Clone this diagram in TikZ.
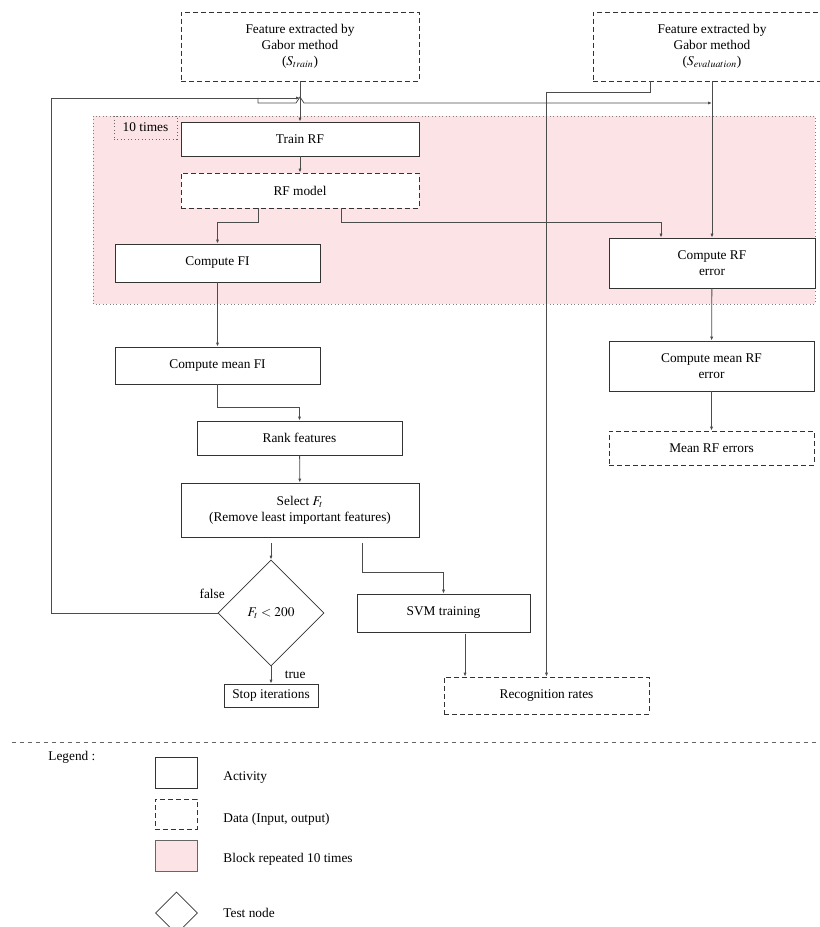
\documentclass[tikz,border=0pt]{standalone}
\usepackage{mathptmx}
\usepackage{fontspec}
\setmainfont{Liberation Serif}
\usetikzlibrary{shapes.geometric,arrows.meta,calc}
\definecolor{blockpink}{HTML}{FBE3E6}

\begin{document}
\begin{tikzpicture}[x=0.75pt, y=-0.75pt, line width=0.6pt,
    act/.style={draw=black!80, rectangle, align=center, inner sep=1pt, fill=white},
    data/.style={act, dash pattern=on 3.5pt off 2.5pt},
    test/.style={draw=black!80, diamond, aspect=1, inner sep=0pt, minimum size=79.5pt, fill=white},
    flow/.style={draw=black!70, -{Latex[length=3pt,width=2.4pt]}},
    wire/.style={draw=black!70}]
    \useasboundingbox (0,0) rectangle (820,927);
    \clip (0,0) rectangle (820,927);
    \draw[black!50, dotted, fill=blockpink] (93,116) rectangle (815,304);
        \node[data, minimum width=178.5pt, minimum height=51.75pt] (1) at (300,46.5) {Feature extracted by\\Gabor method\\($S_{train}$)};
        \node[data, minimum width=178.5pt, minimum height=51.75pt] (2) at (712,46.5) {Feature extracted by\\Gabor method\\($S_{evaluation}$)};
        \node[act, minimum width=178.5pt, minimum height=25.5pt] (3) at (300,139) {Train RF};
        \node[data, minimum width=178.5pt, minimum height=26.25pt] (4) at (300,190.5) {RF model};
        \node[act, minimum width=153.75pt, minimum height=28.5pt] (5) at (217.5,263) {Compute FI};
        \node[act, minimum width=154.5pt, minimum height=37.5pt] (6) at (712,263) {Compute RF\\error};
        \node[act, minimum width=153.75pt, minimum height=27.75pt] (7) at (217.5,365.5) {Compute mean FI};
        \node[act, minimum width=153.75pt, minimum height=25.5pt] (8) at (299.5,438) {Rank features};
        \node[act, minimum width=178.5pt, minimum height=40.5pt] (9) at (300,510) {Select $F_t$\\(Remove least important features)};
        \node[test] (10) at (271,613) {$F_t < 200$};
        \node[act, minimum width=70.5pt, minimum height=17.25pt] (11) at (271,695.5) {Stop iterations};
        \node[act, minimum width=129.75pt, minimum height=28.5pt] (12) at (443.5,613) {SVM training};
        \node[data, minimum width=153.75pt, minimum height=27.75pt] (13) at (546.5,695.5) {Recognition rates};
        \node[act, minimum width=153.75pt, minimum height=37.5pt] (14) at (711.5,366) {Compute mean RF\\error};
        \node[data, minimum width=153.75pt, minimum height=25.5pt] (15) at (711.5,448) {Mean RF errors};
        \node[draw=black!60, dotted, minimum width=47.25pt, minimum height=17.25pt, inner sep=1pt] (16) at (145.5,127.5) {10 times};
        \coordinate (fb) at (300,98);
        \coordinate (br) at (258,98);
        \coordinate (ev) at (712,103);
        \draw[flow] (1) -- (3);
        \draw[flow] (10.west) -- ++(-166,0) |- (fb);
        \draw[flow] (br) -- ++(0,5) -- (296,103) -- (300,97) -- (304,103) -- (ev);
        \draw[flow] (3) -- (4);
        \draw[flow] ([xshift=-31.5pt]4.south) -- ++(0,14) -| (5.north);
        \draw[flow] ([xshift=30.75pt]4.south) -- ++(0,14) -| ([xshift=-38.25pt]6.north);
        \draw[flow] (2) -- (6);
        \draw[flow] ([xshift=-46.5pt]2.south) -- ++(0,11) -| (13.north);
        \draw[flow] (5) -- (7);
        \draw[flow] (7.south) -- ++(0,23) -| (8.north);
        \draw[flow] (8) -- (9);
        \draw[flow] ($(9.south -| 10.north)+(0,6)$) -- (10.north);
        \draw[flow] ($(9.south)+(62,6)$) -- ++(0,29) -| (12.north);
        \draw[flow] (10) -- (11);
        \node[anchor=base east] at ([xshift=9pt,yshift=11pt]10.west) {false};
        \node[anchor=base west] at ([xshift=6.75pt,yshift=-9pt]10.south) {true};
        \draw[flow] ($(12.south)+(21.5,2)$) -- ($(13.north)+(-81.5,0)$);
        \draw[flow] (6) -- (14);
        \draw[flow] (14) -- (15);
    \draw[black!60, dash pattern=on 3pt off 3pt] (12,742) -- (820,742);
        \node[anchor=west, inner sep=0pt] (l0) at (48,757) {Legend :};
        \node[act, minimum width=31.5pt, minimum height=23.25pt] (l1) at (176,772.5) {};
        \node[data, minimum width=31.5pt, minimum height=22.5pt] (l2) at (176,814) {};
        \node[draw=black!60, fill=blockpink, minimum width=31.5pt, minimum height=23.25pt] (l3) at (176,855.5) {};
        \node[test, minimum size=31.5pt] (l4) at (176.5,913) {};
        \node[anchor=west, inner sep=0pt] (t1) at (223,778) {Activity};
        \node[anchor=west, inner sep=0pt] (t2) at (223,819) {Data (Input, output)};
        \node[anchor=west, inner sep=0pt] (t3) at (223,859) {Block repeated 10 times};
        \node[anchor=west, inner sep=0pt] (t4) at (223,913) {Test node};
    \end{tikzpicture}
\end{document}
